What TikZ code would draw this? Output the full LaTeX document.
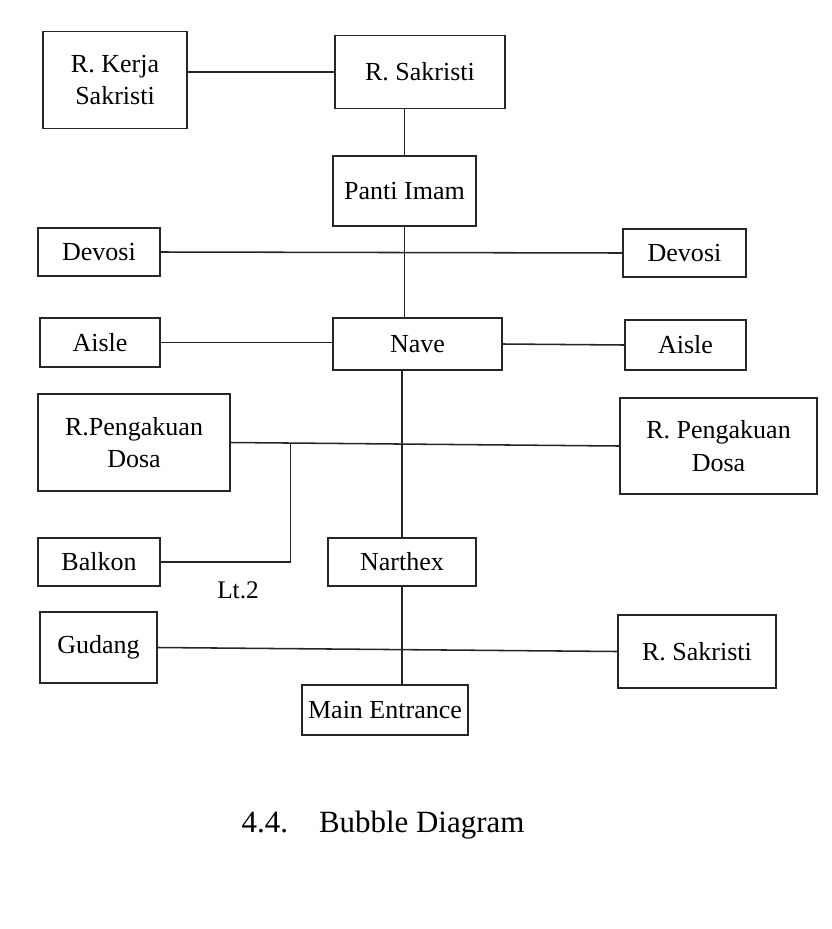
\documentclass[tikz,border=0pt]{standalone}
\usepackage{fontspec}
\setmainfont{Liberation Serif}
\usetikzlibrary{calc}
\tikzset{
  room/.style={draw=black!85, line width=1.1pt, rectangle, align=center, inner sep=2pt, font=\fontsize{18.5}{23}\selectfont},
  link/.style={draw=black!85, line width=1.1pt}
}
\begin{document}
\begin{tikzpicture}[x=0.025cm,y=-0.025cm]
\useasboundingbox (0,0) rectangle (832,929);
%TOP
  \node (kerja) at (115,80) [room, minimum width=144*0.025cm, minimum height=97*0.025cm] {R. Kerja\\Sakristi};
  \node (sakristiA) at (420,72) [room, minimum width=170*0.025cm, minimum height=73*0.025cm] {R. Sakristi};
  \node (panti) at (404.5,191) [room, minimum width=143*0.025cm, minimum height=70*0.025cm] {Panti Imam};
  \draw[link] (kerja.east |- sakristiA.west) -- (sakristiA.west);
  \draw[link] (panti.north |- sakristiA.south) -- (panti.north);

%DEVOSI + AISLE
  \node (devosiL) at (99,252) [room, minimum width=122*0.025cm, minimum height=48*0.025cm] {Devosi};
  \node (devosiR) at (684.5,253) [room, minimum width=123*0.025cm, minimum height=48*0.025cm] {Devosi};
  \node (aisleL) at (100,342.5) [room, minimum width=120*0.025cm, minimum height=49*0.025cm] {Aisle};
  \node (nave) at (417.5,344) [room, minimum width=169*0.025cm, minimum height=52*0.025cm] {Nave};
  \node (aisleR) at (685.5,345) [room, minimum width=121*0.025cm, minimum height=50*0.025cm] {Aisle};
  \draw[link] (devosiL.east) -- (devosiR.west);
  \draw[link] (panti.south) -- (panti.south |- nave.north);
  \draw[link] (aisleL.east) -- (nave.west |- aisleL.east);
  \draw[link] (nave.east) -- (aisleR.west);

%PENGAKUAN + BALKON
  \node (pengL) at (134,442.5) [room, minimum width=192*0.025cm, minimum height=97*0.025cm] {R.Pengakuan\\Dosa};
  \node (pengR) at (718.5,446) [room, minimum width=197*0.025cm, minimum height=96*0.025cm] {R. Pengakuan\\Dosa};
  \node (balkon) at (99,562) [room, minimum width=122*0.025cm, minimum height=48*0.025cm] {Balkon};
  \node (narthex) at (402,562) [room, minimum width=148*0.025cm, minimum height=48*0.025cm] {Narthex};
  \draw[link] (pengL.east) -- (pengR.west);
  \coordinate (lt) at ($(pengL.east)!0.154!(pengR.west)$);
  \draw[link] (balkon.east) -| (lt);
  \node (lt2) at (238,590) [font=\fontsize{18}{20}\selectfont] {Lt.2};
  \draw[link] (narthex.north |- nave.south) -- (narthex.north);

%BOTTOM
  \node (gudang) at (98.5,647.5) [room, minimum width=117*0.025cm, minimum height=71*0.025cm] {Gudang};
  \node (sakristiB) at (697,651.5) [room, minimum width=158*0.025cm, minimum height=73*0.025cm] {R. Sakristi};
  \node (entrance) at (385,710) [room, minimum width=166*0.025cm, minimum height=50*0.025cm] {Main Entrance};
  \draw[link] (gudang.east) -- (sakristiB.west);
  \draw[link] (narthex.south) -- (narthex.south |- entrance.north);

  \node (caption) at (383,825) [font=\fontsize{22}{26}\selectfont] {4.4.\quad Bubble Diagram};
\end{tikzpicture}
\end{document}
